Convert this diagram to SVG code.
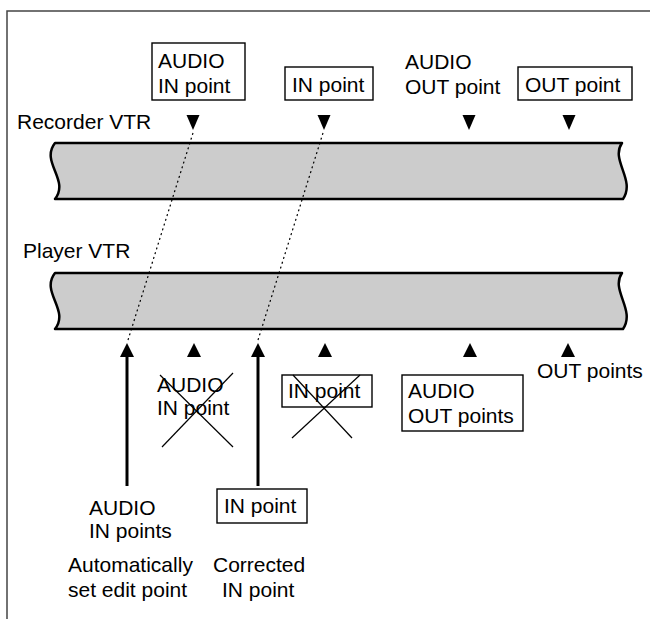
<svg xmlns="http://www.w3.org/2000/svg" width="650" height="619" viewBox="0 0 650 619">
<style>
  text { font-family: "Liberation Sans", Arial, sans-serif; font-size: 21px; fill: #000; }
  .box { fill: #fff; stroke: #000; stroke-width: 1.4; }
  .tape { fill: #cccccc; stroke: #000; stroke-width: 2.5; stroke-linejoin: round; }
  .tri { fill: #000; }
  .dot { stroke: #000; stroke-width: 1.2; stroke-dasharray: 2 3; fill: none; }
  .shaft { stroke: #000; stroke-width: 3; fill: none; }
  .cross { stroke: #000; stroke-width: 1.2; fill: none; }
  .frame { stroke: #444; stroke-width: 1.5; fill: none; }
</style>
<defs>
  <path id="tapeShape" d="M55,0 H622 C610,17 636,37 623,56 H55 C70,37 40,19 55,0 Z"/>
  <polygon id="down" points="-6.5,0 6.5,0 0,15"/>
  <polygon id="up" points="-7,14 7,14 0,0"/>
</defs>

<g id="frame">
  <path class="frame" d="M7,619 V11 H650"/>
</g>

<g id="recorder">
  <use href="#tapeShape" class="tape" x="0" y="143"/>
  <text x="17" y="129">Recorder VTR</text>
</g>

<g id="player">
  <use href="#tapeShape" class="tape" x="0" y="273"/>
  <text x="23" y="258">Player VTR</text>
</g>

<g id="connectors">
  <line class="dot" x1="193" y1="133" x2="128" y2="340"/>
  <line class="dot" x1="323" y1="133" x2="258" y2="340"/>
  <line class="shaft" x1="127" y1="355" x2="127" y2="486"/>
  <line class="shaft" x1="258" y1="355" x2="258" y2="486"/>
</g>

<g id="rec-markers">
  <use href="#down" class="tri" x="193" y="115"/>
  <use href="#down" class="tri" x="324" y="115"/>
  <use href="#down" class="tri" x="469" y="115"/>
  <use href="#down" class="tri" x="569" y="115"/>
</g>

<g id="play-markers">
  <use href="#up" class="tri" x="127" y="343"/>
  <use href="#up" class="tri" x="194" y="343"/>
  <use href="#up" class="tri" x="258" y="343"/>
  <use href="#up" class="tri" x="325" y="343"/>
  <use href="#up" class="tri" x="470" y="343"/>
  <use href="#up" class="tri" x="568" y="343"/>
</g>

<g id="rec-audio-in">
  <rect class="box" x="152" y="43" width="93" height="57"/>
  <text x="158" y="68">AUDIO</text>
  <text x="158" y="93">IN point</text>
</g>

<g id="rec-in">
  <rect class="box" x="285" y="67" width="88" height="33"/>
  <text x="292" y="92">IN point</text>
</g>

<g id="rec-audio-out">
  <text x="405" y="69">AUDIO</text>
  <text x="405" y="94">OUT point</text>
</g>

<g id="rec-out">
  <rect class="box" x="518" y="67" width="114" height="33"/>
  <text x="525" y="92">OUT point</text>
</g>

<g id="play-audio-in-crossed">
  <text x="157" y="392">AUDIO</text>
  <text x="157" y="415">IN point</text>
  <line class="cross" x1="160" y1="375" x2="233" y2="447"/>
  <line class="cross" x1="233" y1="373" x2="162" y2="447"/>
</g>

<g id="play-in-crossed">
  <rect class="box" x="282" y="375" width="90" height="32"/>
  <text x="288" y="398">IN point</text>
  <line class="cross" x1="293" y1="375" x2="352" y2="438"/>
  <line class="cross" x1="360" y1="375" x2="292" y2="438"/>
</g>

<g id="play-audio-out">
  <rect class="box" x="402" y="375" width="121" height="56"/>
  <text x="408" y="398">AUDIO</text>
  <text x="408" y="423">OUT points</text>
</g>

<g id="play-out">
  <text x="537" y="378">OUT points</text>
</g>

<g id="auto-audio-in">
  <text x="89" y="515">AUDIO</text>
  <text x="89" y="538">IN points</text>
  <text x="68" y="572">Automatically</text>
  <text x="68" y="597">set edit point</text>
</g>

<g id="corrected-in">
  <rect class="box" x="217" y="489" width="90" height="34"/>
  <text x="224" y="513">IN point</text>
  <text x="213" y="572">Corrected</text>
  <text x="222" y="597">IN point</text>
</g>
</svg>
